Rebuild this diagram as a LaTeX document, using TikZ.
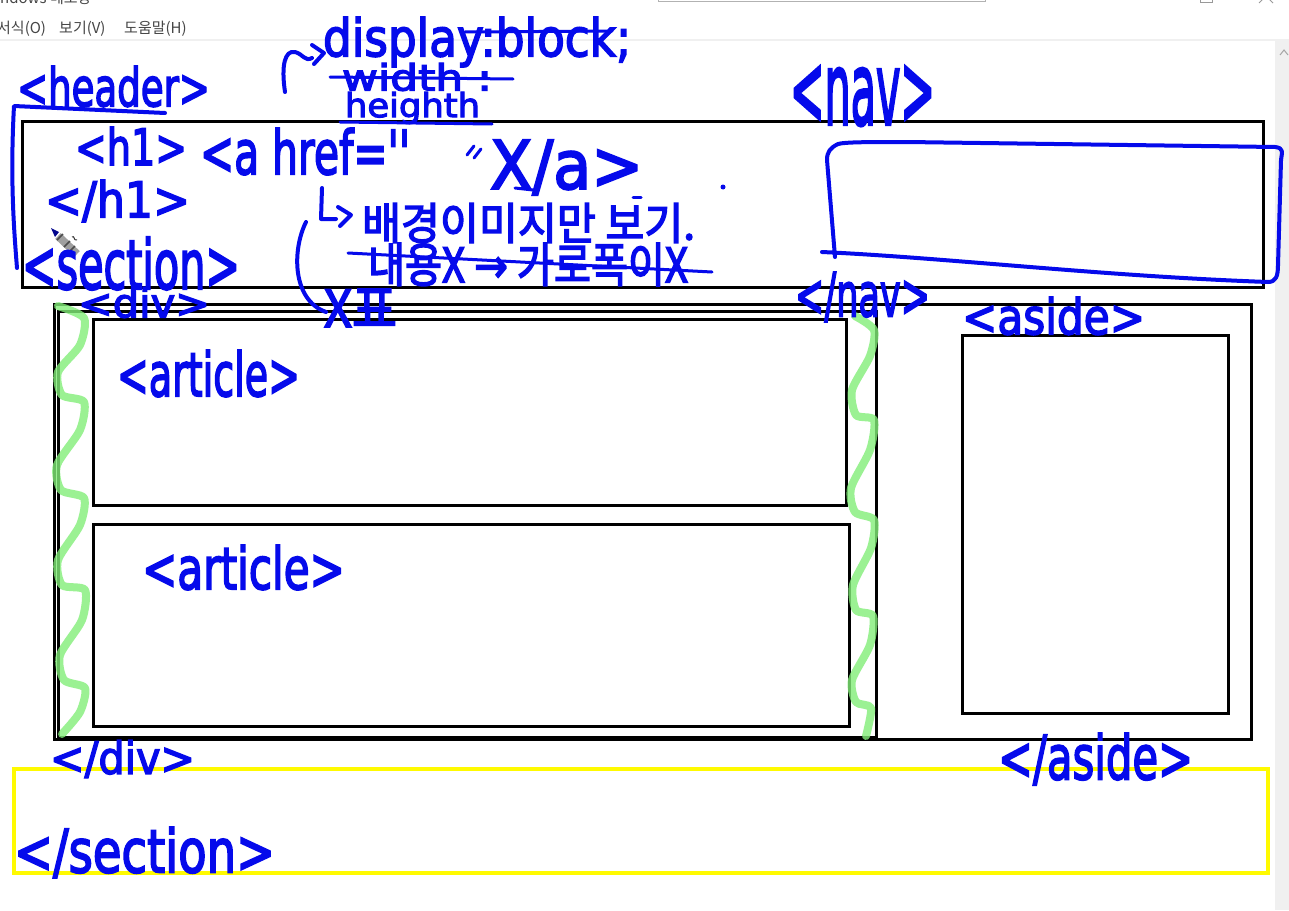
\documentclass[tikz,border=0pt]{standalone}
\usepackage{fontspec}
\usepackage{graphicx}
\setmainfont{DejaVu Sans}
\newfontfamily\krfont{Noto Sans CJK KR}
\newfontfamily\hwfont{DejaVu Sans}
\definecolor{hwblue}{RGB}{5,10,235}
\definecolor{hlgreen}{RGB}{130,238,120}
\definecolor{uigray}{RGB}{240,240,240}
\definecolor{menutext}{RGB}{70,70,70}
\definecolor{hlyellow}{RGB}{255,250,0}
\newcommand{\hwbox}[3]{\resizebox*{#1pt}{#2pt}{#3}}
\newcommand{\emb}[1]{\special{pdf:literal direct 2 Tr 0.32 w}#1\special{pdf:literal direct 0 Tr}}
\tikzset{
  hw/.style={inner sep=0pt, outer sep=0pt, anchor=north west, text=hwblue},
  hwline/.style={draw=hwblue, line width=4pt, line cap=round, line join=round},
  boxline/.style={draw=black, line width=3pt},
  greenline/.style={draw=hlgreen, line width=8pt, line cap=round, line join=round, opacity=0.8},
  menu/.style={inner sep=0pt, anchor=base west, text=menutext, font=\krfont\fontsize{15}{17}\selectfont}
}
\begin{document}
\begin{tikzpicture}[x=1pt,y=-1pt]
\useasboundingbox (0,0) rectangle (1289,910);
\fill[white] (0,0) rectangle (1289,910);
% window chrome
\node[menu] (title) at (0,3) {ndows 메모장};
\node[menu] (m1) at (-3,33) {서식(O)};
\node[menu] (m2) at (59,33) {보기(V)};
\node[menu] (m3) at (124,33) {도움말(H)};
\fill[uigray] (0,39) rectangle (1289,41);
\fill[uigray] (1275,41) rectangle (1289,910);
\draw[gray!70, line width=1pt] (1280,55) -- (1284,50) -- (1288,55);
\draw[gray!60, line width=1pt] (658,-2) rectangle (985,1.5);
\draw[gray!80, line width=1pt] (1200,-6) rectangle (1212,2);
\draw[gray!80, line width=1pt] (1259,3) -- (1266,-4) (1273,3) -- (1266,-4);
% black boxes
\draw[boxline] (22,121) rectangle (1263,287);
\draw[boxline] (54,304) rectangle (1251,739);
\draw[boxline] (58,311) rectangle (876,737);
\draw[boxline] (93,319) rectangle (846,505);
\draw[boxline] (93,524) rectangle (849,726);
\draw[boxline] (962,335) rectangle (1228,713);
\draw[draw=hlyellow, line width=4pt] (14,769) rectangle (1268,873);
% green scribbles
\draw[greenline] plot[smooth, tension=0.45] coordinates {(58,306) (84,318) (80,345) (58,372) (62,395) (84,402) (80,430) (57,465) (61,490) (84,498) (80,525) (58,560) (62,585) (85,590) (82,620) (60,655) (64,680) (85,688) (80,712) (62,734)};
\draw[greenline] plot[smooth, tension=0.45] coordinates {(855,316) (874,330) (870,356) (852,390) (856,415) (874,420) (870,450) (851,488) (855,512) (874,520) (871,548) (853,585) (856,610) (873,616) (870,645) (852,680) (856,702) (871,708) (866,736)};
% pen cursor
\draw[gray!75, line width=8pt] (58,236) -- (77,254);
\draw[black!70, line width=1.5pt] (63,234) -- (57,240) (70,241) -- (64,247) (75,246) -- (69,252);
\fill[hwblue!60!black] (51,228) -- (59,232) -- (55,237) -- cycle;
\draw[black!80, line width=1pt] (72,237) .. controls (75,235) and (73,241) .. (77,240);
% blue handwriting labels
\node[hw] (hdr) at (17,66) {\hwbox{193}{41}{\emb{\hwfont <header>}}};
\node[hw] (h1o) at (75,127) {\hwbox{112}{38}{\emb{\hwfont <h1>}}};
\node[hw] (ahref) at (200,128) {\hwbox{210}{47}{\emb{\hwfont <a href=''}}};
\node[hw] (closea) at (490,140) {\hwbox{153}{55}{\emb{\hwfont X/a>}}};
\node[hw] (h1c) at (45,180) {\hwbox{145}{42}{\emb{\hwfont </h1>}}};
\node[hw] (sec) at (22,237) {\hwbox{218}{53}{\emb{\hwfont <section>}}};
\node[hw] (divo) at (78,287) {\hwbox{132}{31}{\emb{\hwfont <div>}}};
\node[hw] (art1) at (117,350) {\hwbox{183}{47}{\emb{\hwfont <article>}}};
\node[hw] (art2) at (142,545) {\hwbox{203}{45}{\emb{\hwfont <article>}}};
\node[hw] (divc) at (50,740) {\hwbox{145}{38}{\emb{\hwfont </div>}}};
\node[hw] (navo) at (790,66) {\hwbox{145}{60}{\emb{\hwfont <nav>}}};
\node[hw] (navc) at (795,272) {\hwbox{135}{50}{\emb{\hwfont </nav>}}};
\node[hw] (asideo) at (962,297) {\hwbox{183}{38}{\emb{\hwfont <aside>}}};
\node[hw] (asidec) at (998,733) {\hwbox{195}{52}{\emb{\hwfont </aside>}}};
\node[hw] (secc) at (14,827) {\hwbox{261}{51}{\emb{\hwfont </section>}}};
\node[hw] (disp) at (323,17) {\hwbox{308}{50}{\emb{\hwfont display:block;}}};
\node[hw] (wid) at (342,63) {\hwbox{150}{28}{\emb{\hwfont width :}}};
\node[hw] (hgt) at (345,92) {\hwbox{135}{32}{\emb{\hwfont heighth}}};
\node[hw] (bg) at (362,203) {\hwbox{333}{40}{\emb{\krfont 배경이미지만 보기.}}};
\node[hw] (cnt) at (368,243) {\hwbox{320}{43}{\emb{\krfont 내용X {\hwfont →} 가로폭이X}}};
\node[hw] (scrib) at (324,289) {\hwbox{73}{38}{\emb{\krfont X표}}};
% opening quote of "</a>
\draw[hwline, line width=3pt] (467,155) -- (474,146) (474,158) -- (481,149);
% strike / underline strokes
\draw[hwline, line width=3pt] (465,32) -- (612,31);
\draw[hwline, line width=3pt] (330,77) -- (513,79);
\draw[hwline, line width=3pt] (340,122) -- (492,124);
\draw[hwline, line width=3pt] (348,253) -- (712,272);
% hook arrows
\draw[hwline] (285,92) .. controls (281,65) and (285,50) .. (295,52) .. controls (303,54) and (305,62) .. (312,58);
\draw[hwline] (312,45) -- (324,53) -- (314,64);
\draw[hwline] (322,188) -- (321,219) -- (336,219);
\draw[hwline] (338,207) -- (351,215) -- (340,226);
\draw[hwline] (306,222) .. controls (292,250) and (292,300) .. (326,312);
% small marks
\draw[hwline, line width=3pt] (515,188) -- (533,190);
\draw[hwline, line width=3pt] (633,197) -- (641,197);
\fill[hwblue] (723,187) circle (2.5);
% header bracket
\draw[hwline] (165,113) -- (14,106) .. controls (10,180) and (14,230) .. (17,268);
% nav box
\draw[hwline] (822,252) .. controls (950,258) and (1100,276) .. (1268,282) .. controls (1276,282) and (1278,276) .. (1278,265) -- (1281,160) .. controls (1282,152) and (1284,148) .. (1275,147) -- (907,142) .. controls (870,142) and (845,142) .. (838,144) .. controls (830,148) and (827,152) .. (827,160) -- (835,257);
\end{tikzpicture}
\end{document}
